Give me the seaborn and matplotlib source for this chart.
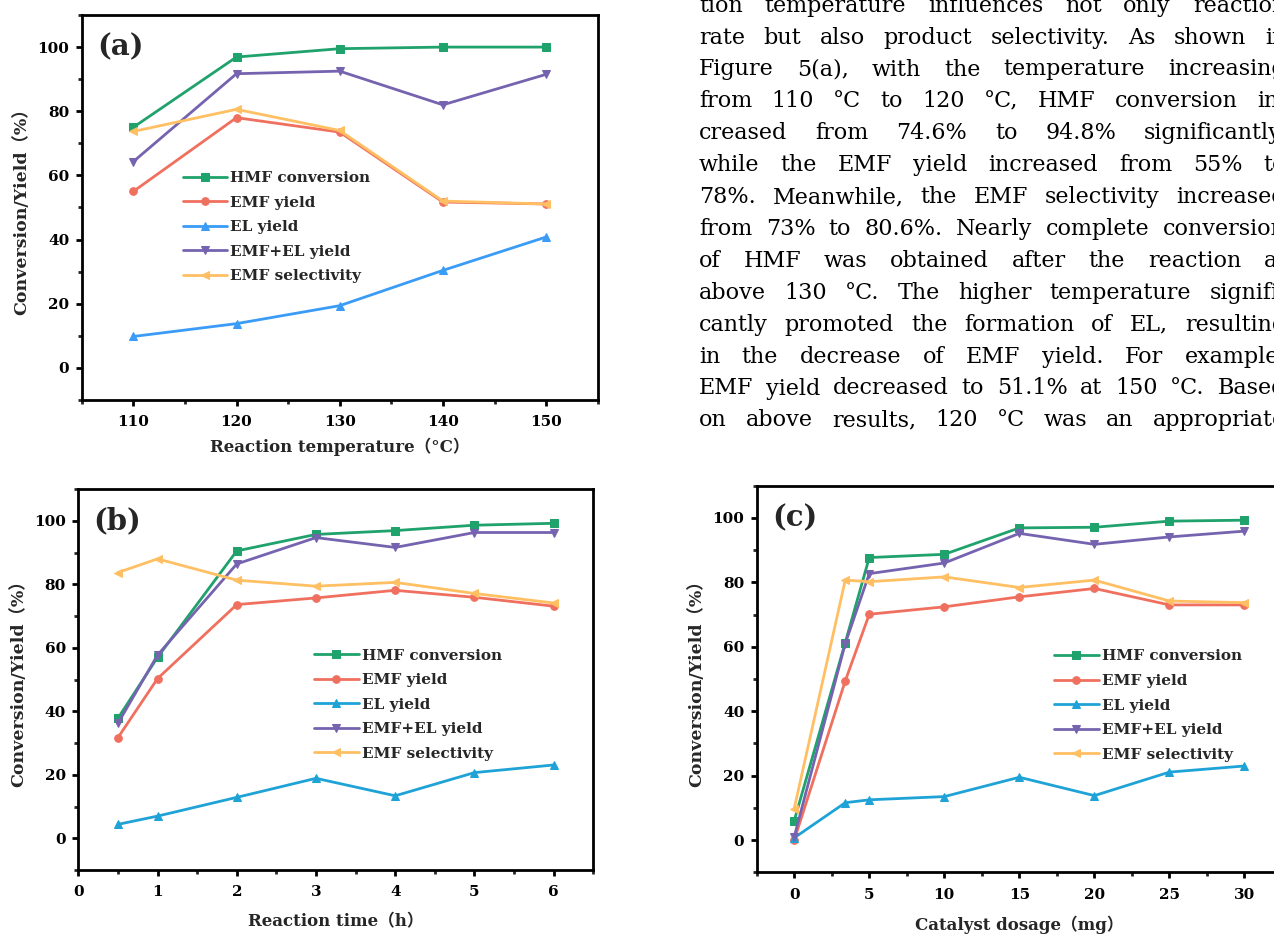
import matplotlib
matplotlib.use("Agg")
import matplotlib.pyplot as plt
from matplotlib.ticker import MultipleLocator
import seaborn as sns

sns.set_theme(style="ticks")
plt.rcParams['font.family'] = ['DejaVu Serif', 'Noto Sans CJK SC']
plt.rcParams['font.weight'] = 'bold'
plt.rcParams['axes.labelweight'] = 'bold'

# ---- data -------------------------------------------------------------
series_names = ["HMF conversion", "EMF yield", "EL yield", "EMF+EL yield", "EMF selectivity"]

temp_c = [110, 120, 130, 140, 150]
temp_hmf = [75.0, 96.9, 99.5, 100.0, 100.0]
temp_emf = [55.0, 78.0, 73.5, 51.7, 51.1]
temp_el = [9.8, 13.8, 19.4, 30.4, 40.8]
temp_sum = [64.3, 91.7, 92.5, 82.0, 91.5]
temp_sel = [73.7, 80.6, 74.0, 52.0, 51.1]

time_h = [0.5, 1, 2, 3, 4, 5, 6]
time_hmf = [37.8, 57.0, 90.5, 95.7, 96.9, 98.6, 99.2]
time_emf = [31.7, 50.3, 73.6, 75.7, 78.1, 75.9, 73.1]
time_el = [4.4, 7.0, 12.9, 18.9, 13.4, 20.7, 23.1]
time_sum = [36.2, 57.7, 86.4, 94.7, 91.6, 96.3, 96.3]
time_sel = [83.7, 88.0, 81.3, 79.4, 80.6, 77.1, 74.1]

dose_mg = [0, 3.4, 5, 10, 15, 20, 25, 30]
dose_hmf = [6.0, 61.3, 87.7, 88.7, 96.9, 97.1, 99.0, 99.3]
dose_emf = [0.0, 49.4, 70.1, 72.4, 75.5, 78.1, 73.0, 73.0]
dose_el = [0.7, 11.6, 12.5, 13.5, 19.5, 13.8, 21.1, 23.0]
dose_sum = [1.0, 61.0, 82.7, 86.0, 95.2, 91.8, 94.1, 95.9]
dose_sel = [9.8, 80.7, 80.2, 81.7, 78.4, 80.7, 74.2, 73.7]

para_lines = [
    "tion temperature influences not only reaction",
    "rate but also product selectivity. As shown in",
    "Figure 5(a), with the temperature increasing",
    "from 110 °C to 120 °C, HMF conversion in-",
    "creased from 74.6% to 94.8% significantly,",
    "while the EMF yield increased from 55% to",
    "78%. Meanwhile, the EMF selectivity increased",
    "from 73% to 80.6%. Nearly complete conversion",
    "of HMF was obtained after the reaction at",
    "above 130 °C. The higher temperature signifi-",
    "cantly promoted the formation of EL, resulting",
    "in the decrease of EMF yield. For example,",
    "EMF yield decreased to 51.1% at 150 °C. Based",
    "on above results, 120 °C was an appropriate",
]

# ---- styling ----------------------------------------------------------
W, H = 1274, 935
markers = ["s", "o", "^", "v", "<"]
colors_a = ["#1fa26b", "#f0705f", "#3a9cf6", "#7663b0", "#ffbf63"]
colors_bc = ["#1fa26b", "#f0705f", "#1fa3d6", "#7663b0", "#ffbf63"]

fig = plt.figure(figsize=(W / 100, H / 100), dpi=100)


def px_axes(left, top, right, bottom):
    return fig.add_axes([left / W, 1 - bottom / H, (right - left) / W, (bottom - top) / H])


def draw_panel(ax, x, ys, colors, xlim, xmajor, xminor, xlabel, tag, leg_xy, xlabelpad):
    for y, name, m, c in zip(ys, series_names, markers, colors):
        sns.lineplot(x=x, y=y, ax=ax, color=c, marker=m, markersize=5.5,
                     markeredgecolor=c, linewidth=2.0, label=name)
    ax.xaxis.set_major_locator(MultipleLocator(xmajor))
    ax.xaxis.set_minor_locator(MultipleLocator(xminor))
    ax.yaxis.set_major_locator(MultipleLocator(20))
    ax.yaxis.set_minor_locator(MultipleLocator(10))
    ax.set_ylim(-10, 110)
    ax.set_xlim(*xlim)
    for s in ax.spines.values():
        s.set_linewidth(2.0)
        s.set_color("black")
    ax.tick_params(axis="both", which="major", direction="out", length=4, width=2,
                   labelsize=11, colors="black")
    ax.tick_params(axis="both", which="minor", direction="out", length=3, width=2)
    ax.tick_params(axis="x", which="major", pad=7)
    ax.tick_params(axis="y", which="major", pad=5)
    for lab in ax.get_xticklabels() + ax.get_yticklabels():
        lab.set_fontweight("bold")
    ax.set_xlabel(xlabel, fontsize=12, fontweight="bold", labelpad=xlabelpad)
    ax.set_ylabel("Conversion/Yield（%）", fontsize=12.5, fontweight="bold", labelpad=5)
    ax.text(0.03, 0.955, tag, transform=ax.transAxes, ha="left", va="top",
            fontsize=21, fontweight="bold")
    lx, ly = leg_xy
    ax.legend(loc="upper left", bbox_to_anchor=(lx / W, 1 - ly / H),
              bbox_transform=fig.transFigure, frameon=False, borderpad=0,
              borderaxespad=0, handlelength=2.9, handletextpad=0.2,
              labelspacing=0.69, prop={"size": 11, "weight": "bold"})


ax_a = px_axes(81.7, 15, 597.7, 400)
draw_panel(ax_a, temp_c, [temp_hmf, temp_emf, temp_el, temp_sum, temp_sel], colors_a,
           (105, 155), 10, 5, "Reaction temperature（°C）", "(a)", (182.7, 171.0), 6)

ax_b = px_axes(78.3, 489, 593.3, 870.1)
draw_panel(ax_b, time_h, [time_hmf, time_emf, time_el, time_sum, time_sel], colors_bc,
           (0, 6.5), 1, 0.5, "Reaction time（h）", "(b)", (314.3, 648.5), 10)

ax_c = px_axes(756.7, 485.7, 1282, 872.3)
draw_panel(ax_c, dose_mg, [dose_hmf, dose_emf, dose_el, dose_sum, dose_sel], colors_bc,
           (-2.5, 32.5), 5, 2.5, "Catalyst dosage（mg）", "(c)", (1054.3, 649.5), 10)

# ---- justified paragraph beside panel (a) ------------------------------
fig.canvas.draw()
renderer = fig.canvas.get_renderer()
para_left, para_right = 699.0, 1286.0
first_base, line_gap = 11.7, 31.9
for i, line in enumerate(para_lines):
    words = line.split(" ")
    texts = [fig.text(0, 0, w, fontsize=16, family="DejaVu Serif", fontweight="normal",
                      va="baseline", ha="left", color="black") for w in words]
    widths = [t.get_window_extent(renderer).width for t in texts]
    gap = (para_right - para_left - sum(widths)) / max(len(words) - 1, 1)
    xpos = para_left
    ypos = 1 - (first_base + i * line_gap) / H
    for t, w in zip(texts, widths):
        t.set_position((xpos / W, ypos))
        xpos += w + gap

fig.savefig("out.png", dpi=100, facecolor="white")
